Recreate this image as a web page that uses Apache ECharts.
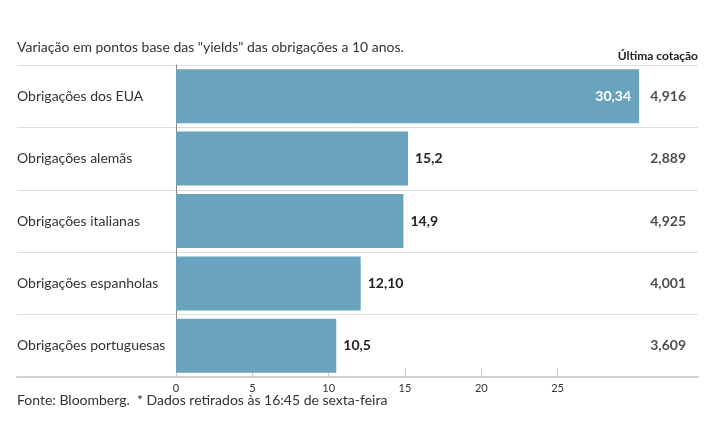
<!DOCTYPE html>
<html>
<head>
<meta charset="utf-8">
<title>Obrigações</title>
<script src="https://cdn.jsdelivr.net/npm/echarts@6/dist/echarts.min.js"></script>
<style>
    html, body { margin: 0; padding: 0; background: #fff; }
    #chart { width: 715px; height: 445px; }
</style>
</head>
<body>
<div id="chart"></div>
<script>
    var categories = ['Obrigações dos EUA', 'Obrigações alemãs', 'Obrigações italianas', 'Obrigações espanholas', 'Obrigações portuguesas'];
    var changes = [30.34, 15.2, 14.9, 12.10, 10.5];
    var changeLabels = ['30,34', '15,2', '14,9', '12,10', '10,5'];
    var lastQuotes = ['4,916', '2,889', '4,925', '4,001', '3,609'];
    var tickValues = [0, 5, 10, 15, 20, 25];

    var font = 'Lato, "Open Sans", sans-serif';
    var barColor = '#6aa3be';

    var myChart = echarts.init(document.getElementById('chart'), null, {renderer: 'canvas'});

    var option = {
        animation: false,
        textStyle: { fontFamily: font },
        title: {
            text: 'Variação em pontos base das "yields" das obrigações a 10 anos.',
            left: 12,
            top: 35,
            textStyle: { fontFamily: font, fontSize: 14, fontWeight: 'normal', color: '#333' }
        },
        graphic: [{
            type: 'text',
            right: 17,
            top: 50,
            style: { text: 'Última cotação', font: 'bold 12px ' + font, fill: '#222' }
        }, {
            type: 'text',
            left: 17,
            top: 393,
            style: { text: 'Fonte: Bloomberg.  * Dados retirados às 16:45 de sexta-feira', font: '14px ' + font, fill: '#333' }
        }],
        grid: [
            // bars
            { left: 176, top: 65, right: 75, height: 312 },
            // full-width rows, labels and last quotes
            { left: 17, top: 65, right: 17, height: 312 }
        ],
        xAxis: [{
            gridIndex: 0,
            type: 'value',
            min: 0,
            max: 30.4,
            axisLine: { show: false },
            splitLine: { show: false },
            axisTick: {
                show: true, inside: true, length: 9,
                customValues: tickValues,
                lineStyle: { color: '#ccc' }
            },
            axisLabel: {
                customValues: tickValues,
                fontSize: 11, color: '#333', margin: 6, fontFamily: font
            }
        }, {
            gridIndex: 1,
            type: 'value',
            min: 0,
            max: 1,
            axisLine: { show: true, lineStyle: { color: '#d0d0d0', width: 2 } },
            axisTick: { show: false },
            axisLabel: { show: false },
            splitLine: { show: false }
        }],
        yAxis: [{
            gridIndex: 0,
            type: 'category',
            inverse: true,
            data: categories,
            axisLine: { show: true, lineStyle: { color: '#888' } },
            axisTick: { show: false },
            axisLabel: { show: false }
        }, {
            gridIndex: 1,
            type: 'category',
            inverse: true,
            data: categories,
            axisLine: { show: false },
            axisTick: { show: false },
            axisLabel: {
                inside: true, margin: 0,
                fontSize: 14, color: '#333', fontFamily: font
            },
            splitLine: { show: true, lineStyle: { color: '#dcdcdc' } }
        }],
        series: [{
            name: 'Variação',
            type: 'bar',
            xAxisIndex: 0,
            yAxisIndex: 0,
            barWidth: 54,
            itemStyle: { color: barColor },
            data: changes.map(function (v, i) {
                var inside = i === 0;
                return {
                    value: v,
                    label: {
                        show: true,
                        position: inside ? 'insideRight' : 'right',
                        distance: inside ? 8 : 7,
                        color: inside ? '#fff' : '#222',
                        fontWeight: 'bold',
                        fontSize: 14,
                        fontFamily: font,
                        formatter: changeLabels[i]
                    }
                };
            })
        }, {
            name: 'Última cotação',
            type: 'scatter',
            xAxisIndex: 1,
            yAxisIndex: 1,
            symbolSize: 0,
            silent: true,
            label: {
                show: true,
                position: 'left',
                distance: 12,
                color: '#222',
                fontWeight: 'bold',
                fontSize: 14,
                fontFamily: font,
                formatter: function (p) { return lastQuotes[p.dataIndex]; }
            },
            data: categories.map(function (c) { return [1, c]; })
        }]
    };

    myChart.setOption(option);

    window.addEventListener('resize', function () {
        myChart.resize();
    });
</script>
</body>
</html>
